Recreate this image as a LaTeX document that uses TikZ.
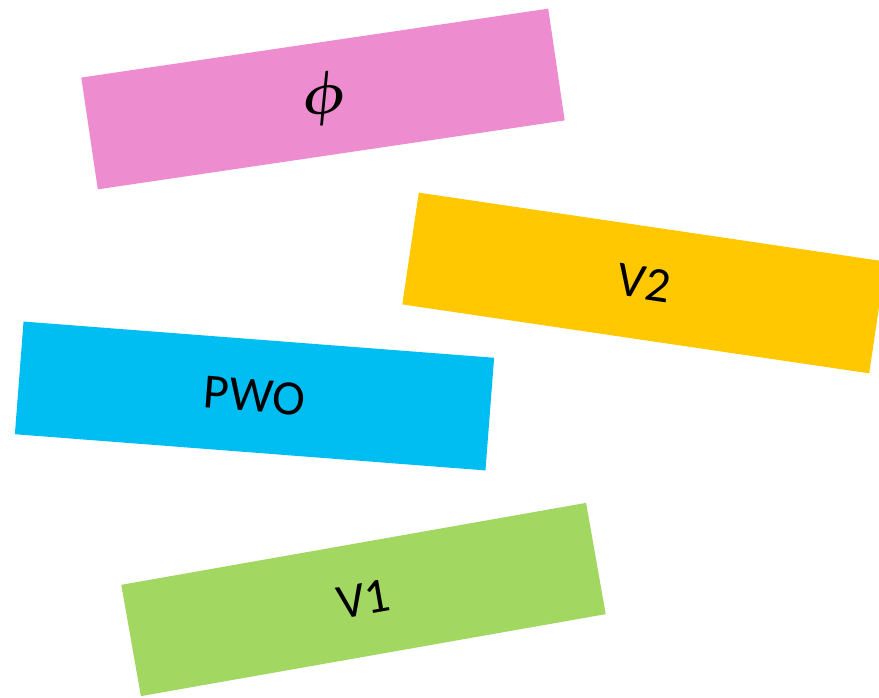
\documentclass[tikz,border=0pt]{standalone}
\usepackage{amsmath}
\usepackage{fontspec}
\setmainfont{Carlito}
\definecolor{pinkbox}{RGB}{238,140,208}
\definecolor{yellowbox}{RGB}{255,200,0}
\definecolor{bluebox}{RGB}{0,190,242}
\definecolor{greenbox}{RGB}{162,215,98}
\begin{document}
\begin{tikzpicture}[x=0.75pt, y=0.75pt,
    label box/.style={minimum width=354pt, minimum height=84.75pt, inner sep=0pt, font=\fontsize{37}{40}\selectfont}]
            \useasboundingbox (0,0) rectangle (879,-698);
            \clip (0,0) rectangle (879,-698);

            \node[label box, fill=pinkbox, rotate=8.4] (phi) at (323,-99) {\scalebox{1.8}{$\boldsymbol{\phi}$}};
            \node[label box, fill=yellowbox, rotate=-8.4] (vtwo) at (644,-283) {V2};
            \node[label box, fill=bluebox, rotate=-4.4] (pwo) at (254.5,-396) {PWO};
            \node[label box, fill=greenbox, rotate=10] (vone) at (363.5,-599.5) {V1};
        \end{tikzpicture}
\end{document}
